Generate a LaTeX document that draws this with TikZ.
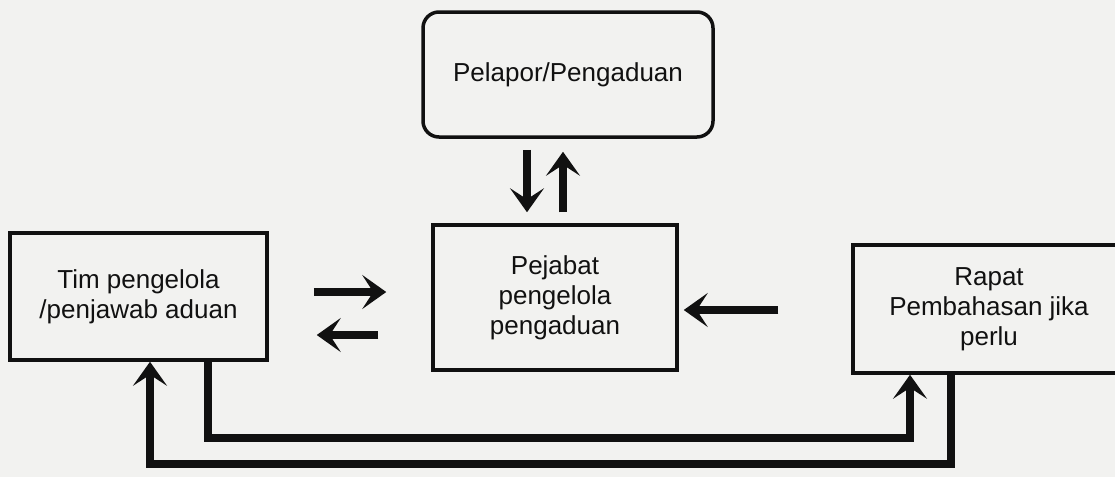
\documentclass[tikz,border=0pt]{standalone}
\usepackage{fontspec}
\setmainfont{Liberation Sans}
\usetikzlibrary{arrows.meta}
\definecolor{bg}{HTML}{F2F2F0}
\definecolor{ink}{HTML}{111111}
\tikzset{
  box/.style={draw=ink, line width=3.5pt, align=center, font=\fontsize{26}{30}\selectfont, text=ink, inner sep=0pt},
  conn/.style={draw=ink, line width=7.5pt, line join=miter},
  arr/.style={conn, -{Stealth[length=24pt,width=34pt,inset=11pt]}},
}
\begin{document}
\begin{tikzpicture}[x=1pt,y=-1pt]
\fill[bg] (0,0) rectangle (1115,477);
\useasboundingbox (0,0) rectangle (1115,477);
\node[box, rounded corners=16pt, minimum width=290pt, minimum height=125pt] (top) at (568,74.5) {Pelapor/Pengaduan};
\node[box, minimum width=244pt, minimum height=145pt] (center) at (555,297.5) {Pejabat\\pengelola\\pengaduan};
\node[box, minimum width=257pt, minimum height=127pt] (left) at (138.5,296.5) {Tim pengelola\\/penjawab aduan};
\node[box, minimum width=272pt, minimum height=128pt] (right) at (989,309) {Rapat\\Pembahasan jika\\perlu};
% top <-> center
\draw[arr] ([xshift=-41pt,yshift=-11pt]top.south) -- ([xshift=-28pt,yshift=11pt]center.north);
\draw[arr] ([xshift=8pt,yshift=11pt]center.north) -- ([xshift=-5pt,yshift=-13pt]top.south);
% left <-> center
\draw[arr] ([xshift=45pt,yshift=4.5pt]left.east) -- ([xshift=-45pt,yshift=5.5pt]center.west);
\draw[arr] ([xshift=-53pt,yshift=-37.5pt]center.west) -- ([xshift=48pt,yshift=-38.5pt]left.east);
% right -> center
\draw[arr] ([xshift=-73pt,yshift=-1pt]right.west) -- ([xshift=5pt,yshift=-12.5pt]center.east);
% bottom loops
\coordinate (b1) at (0,438);
\coordinate (b2) at (0,464);
\draw[arr] ([xshift=69.5pt]left.south) -- ([xshift=69.5pt]left.south |- b1) -| ([xshift=-79pt]right.south);
\draw[arr] ([xshift=-38pt]right.south) -- ([xshift=-38pt]right.south |- b2) -| ([xshift=11.5pt]left.south);
\end{tikzpicture}
\end{document}
